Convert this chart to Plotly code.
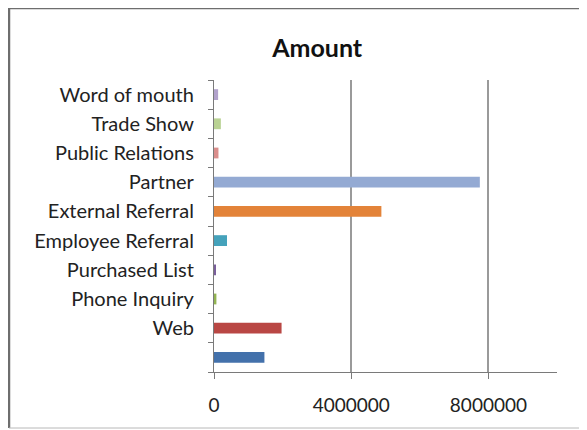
import plotly.graph_objects as go

# bottom to top, as in the chart
sources = ['', 'Web', 'Phone Inquiry', 'Purchased List', 'Employee Referral',
           'External Referral', 'Partner', 'Public Relations', 'Trade Show', 'Word of mouth']
amounts = [1470000, 1970000, 70000, 30000, 380000,
           4880000, 7750000, 130000, 200000, 120000]
bar_colours = ['#4371AB', '#B94744', '#93B452', '#7A5F9B', '#45A2BB',
               '#E38339', '#94AAD3', '#DA8E8C', '#B9D293', '#B2A2CC']
tick_vals = [0, 4000000, 8000000]

fig = go.Figure()
fig.add_trace(go.Bar(y=sources, x=amounts, orientation='h',
                     marker=dict(color=bar_colours, line=dict(width=0)),
                     width=0.37, showlegend=False))

fig.update_layout(
    width=579, height=422,
    margin=dict(l=206, r=30, t=72, b=58),
    paper_bgcolor='white', plot_bgcolor='white',
    font=dict(family='Lato', size=20, color='#222222'),
    title=dict(text='<b>Amount</b>', x=0.534, xanchor='center', y=0.905, yanchor='middle',
               font=dict(size=25, color='#111111')),
)
fig.update_xaxes(range=[0, 10000000], tickvals=tick_vals, ticktext=['0', '4000000', '8000000'],
                 tickfont=dict(size=19),
                 showgrid=True, gridcolor='#9A9A9A', gridwidth=1.5,
                 showline=True, linecolor='#7A7A7A', linewidth=1.2,
                 ticks='outside', ticklen=6, tickcolor='#7A7A7A', zeroline=False,
                 ticklabelstandoff=10)
fig.update_yaxes(type='category', categoryorder='array', categoryarray=sources,
                 tickson='boundaries', ticks='outside', ticklen=5, tickcolor='#7A7A7A',
                 showline=True, linecolor='#7A7A7A', linewidth=1.2, showgrid=False,
                 ticklabelstandoff=15)

# outer chart frame
fig.add_shape(type='line', xref='paper', yref='paper', x0=-0.5977, x1=1.2, y0=1.2466, y1=1.2466,
              line=dict(color='#6E6E6E', width=2.5))
fig.add_shape(type='line', xref='paper', yref='paper', x0=-0.5977, x1=-0.5977, y0=1.2466, y1=-0.1918,
              line=dict(color='#6E6E6E', width=2.5))
fig.add_shape(type='line', xref='paper', yref='paper', x0=-0.5977, x1=1.2, y0=-0.1918, y1=-0.1918,
              line=dict(color='#B8B8B8', width=1))

fig.write_html("out.html")
